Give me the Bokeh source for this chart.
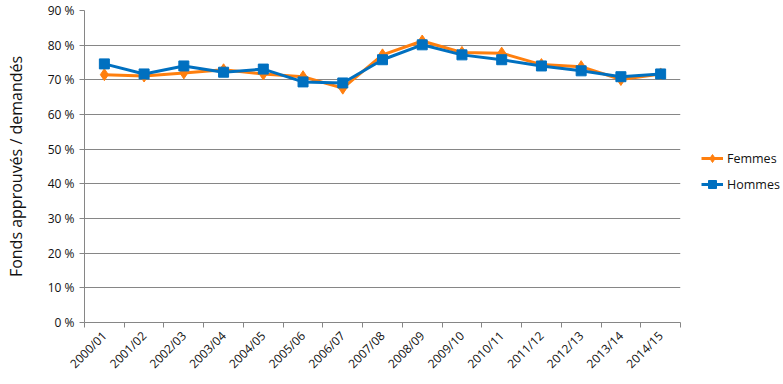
import math
from bokeh.plotting import figure
from bokeh.models import (ColumnDataSource, FixedTicker, Range1d, Legend, LegendItem,
                          PrintfTickFormatter)
from bokeh.embed import file_html
from bokeh.resources import INLINE

years = ["2000/01", "2001/02", "2002/03", "2003/04", "2004/05", "2005/06", "2006/07",
         "2007/08", "2008/09", "2009/10", "2010/11", "2011/12", "2012/13", "2013/14", "2014/15"]
femmes = [71.5, 71.1, 72.0, 72.9, 71.7, 70.9, 67.6, 77.2, 81.2, 77.9, 77.7, 74.4, 73.8, 70.1, 71.7]
hommes = [74.6, 71.7, 74.0, 72.2, 73.1, 69.4, 69.1, 75.8, 80.1, 77.2, 75.8, 74.0, 72.6, 70.9, 71.7]
y_ticks = [0, 10, 20, 30, 40, 50, 60, 70, 80, 90]

xpos = [i + 0.5 for i in range(len(years))]
src = ColumnDataSource(dict(x=xpos, f=femmes, h=hommes))

FONT = "Open Sans"
GRAY = "#868686"
ORANGE = "#FF7F0E"
BLUE = "#0070C0"
TXT = "#111111"

p = figure(frame_width=596, frame_height=312, output_backend="svg", toolbar_location=None,
           x_range=Range1d(0, len(years)), y_range=Range1d(0, 90),
           min_border_left=84, min_border_right=100, min_border_top=10, min_border_bottom=62)
p.outline_line_color = None
p.background_fill_color = "white"
p.border_fill_color = "white"

# grid
p.xgrid.grid_line_color = None
p.ygrid.grid_line_color = GRAY
p.ygrid.grid_line_width = 1

# y axis
p.yaxis.ticker = FixedTicker(ticks=y_ticks)
p.yaxis.formatter = PrintfTickFormatter(format="%d %%")
p.yaxis.axis_line_color = GRAY
p.yaxis.major_tick_line_color = GRAY
p.yaxis.major_tick_out = 5
p.yaxis.major_tick_in = 0
p.yaxis.minor_tick_line_color = None
p.yaxis.major_label_text_font = FONT
p.yaxis.major_label_text_font_size = "12px"
p.yaxis.major_label_text_color = TXT
p.yaxis.axis_label = "Fonds approuvés / demandés"
p.yaxis.axis_label_text_font = FONT
p.yaxis.axis_label_text_font_size = "16px"
p.yaxis.axis_label_text_font_style = "normal"
p.yaxis.axis_label_text_color = TXT
p.yaxis.axis_label_standoff = 18

# x axis
p.xaxis.ticker = FixedTicker(ticks=xpos, minor_ticks=list(range(len(years) + 1)))
p.xaxis.major_label_overrides = {x: y for x, y in zip(xpos, years)}
p.xaxis.major_tick_line_color = None
p.xaxis.major_tick_out = 0
p.xaxis.major_tick_in = 0
p.xaxis.minor_tick_line_color = GRAY
p.xaxis.minor_tick_out = 5
p.xaxis.minor_tick_in = 0
p.xaxis.axis_line_color = GRAY
p.xaxis.major_label_orientation = math.pi / 4
p.xaxis.major_label_text_font = FONT
p.xaxis.major_label_text_font_size = "12px"
p.xaxis.major_label_text_color = TXT
p.xaxis.major_label_standoff = 6

lf = p.line("x", "f", source=src, line_color=ORANGE, line_width=3)
sf = p.scatter("x", "f", source=src, marker="diamond", size=12, fill_color=ORANGE, line_color=ORANGE)
lh = p.line("x", "h", source=src, line_color=BLUE, line_width=3)
sh = p.scatter("x", "h", source=src, marker="square", size=10, fill_color=BLUE, line_color=BLUE)

legend = Legend(items=[LegendItem(label="Femmes", renderers=[lf, sf]),
                       LegendItem(label="Hommes", renderers=[lh, sh])],
                location=(21, 128), border_line_color=None, background_fill_alpha=0,
                label_text_font=FONT, label_text_font_size="12.5px", label_text_color=TXT,
                glyph_width=22, spacing=6, padding=2, label_standoff=4, margin=0)
p.add_layout(legend, "right")

open("out.html", "w").write(file_html(p, INLINE))
